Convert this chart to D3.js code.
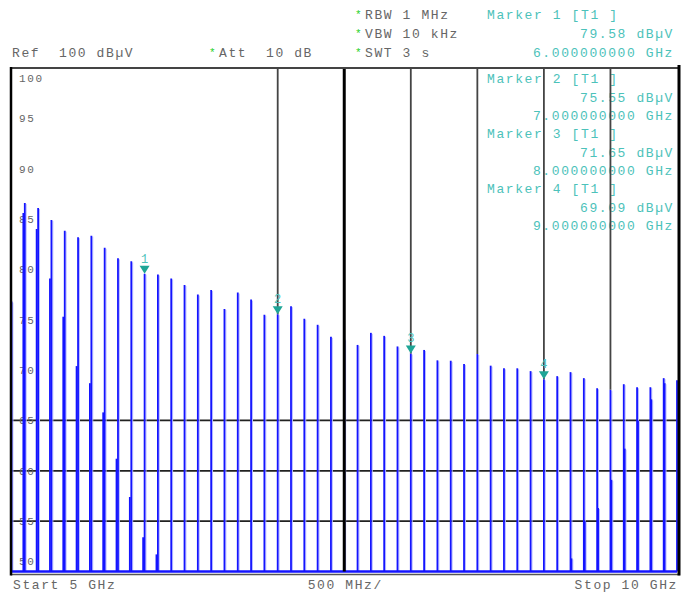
<!DOCTYPE html>
<html>
<head>
<meta charset="utf-8">
<script src="https://cdn.jsdelivr.net/npm/d3@7"></script>
<style>
    body { margin: 0; background: #fff; }
    svg { display: block; }
    text { font-family: "Liberation Mono", "DejaVu Sans Mono", monospace; white-space: pre; }
</style>
</head>
<body>
<svg id="chart" width="691" height="595"></svg>
<script>
// Harmonic comb, one line every 100 MHz (GHz / dBuV)
const harmonicGHz = [5.0, 5.1, 5.2, 5.3, 5.4, 5.5, 5.6, 5.7, 5.8, 5.9,
                     6.0, 6.1, 6.2, 6.3, 6.4, 6.5, 6.6, 6.7, 6.8, 6.9,
                     7.0, 7.1, 7.2, 7.3, 7.4, 7.5, 7.6, 7.7, 7.8, 7.9,
                     8.0, 8.1, 8.2, 8.3, 8.4, 8.5, 8.6, 8.7, 8.8, 8.9,
                     9.0, 9.1, 9.2, 9.3, 9.4, 9.5, 9.6, 9.7, 9.8, 9.9, 10.0]
const harmonicDb = [76.8, 86.6, 86.1, 84.9, 83.85, 83.2, 83.35, 82.15, 81.1, 80.8,
                    79.58, 79.5, 79.1, 78.45, 77.5, 77.95, 76.07, 77.7, 77.0, 75.5,
                    75.55, 76.35, 75.1, 74.5, 73.3, 73.05, 72.5, 73.7, 73.4, 72.35,
                    71.65, 72.0, 70.97, 70.93, 70.6, 71.6, 70.44, 70.18, 70.18, 69.9,
                    69.09, 69.4, 69.8, 69.2, 68.2, 68.05, 68.6, 68.3, 68.3, 69.2, 69.0]

// Second (image) comb, slightly offset from the main one
const imageGHz = [5.089, 5.189, 5.289, 5.389, 5.489, 5.589, 5.689, 5.789, 5.889, 5.989, 6.089,
                  9.207, 9.307, 9.407, 9.507, 9.607, 9.707, 9.807, 9.907]
const imageDb = [85.6, 84.0, 79.1, 75.3, 70.4, 68.7, 65.8, 61.2, 57.4, 53.4, 51.7,
                 51.3, 55.0, 56.3, 59.1, 62.2, 65.0, 67.1, 68.7]

// Markers
const markerGHz = [6, 7, 8, 9]
const markerDb = [79.58, 75.55, 71.65, 69.09]

// Axis / grid values
const yTicks = [100, 95, 90, 85, 80, 75, 70, 65, 60, 55, 50]
const hGridDb = [65, 60, 55]
const vGridGHz = [7, 7.5, 8, 8.5, 9, 9.5]
const centerGHz = 7.5

// Instrument settings text
const settings = ["RBW 1 MHz", "VBW 10 kHz", "SWT 3 s"]
const refText = "Ref  100 dBµV"
const attText = "Att  10 dB"
const startText = "Start 5 GHz"
const spanText = "500 MHz/"
const stopText = "Stop 10 GHz"

const svg = d3.select("#chart")

const x = d3.scaleLinear().domain([5, 10]).range([11.5, 677])
const y = d3.scaleLinear().domain([50, 100]).range([571.5, 68])

const GRAY = "#666"
const TEAL = "#4cc2ba"
const TEAL_DARK = "#1ea596"
const BLUE = "#1414ff"

function label(sel, size, spacing) {
    return sel.style("font-size", size + "px").style("letter-spacing", spacing + "px")
}

// Horizontal grid lines (only the lower ones are shown on the screen)
svg.selectAll("line.hgrid").data(hGridDb).enter().append("line")
    .attr("x1", x(5)).attr("x2", x(10))
    .attr("y1", d => y(d)).attr("y2", d => y(d))
    .attr("stroke", "#222").attr("stroke-width", 1.8)

// Y tick labels
svg.selectAll("text.ytick").data(yTicks).enter().append("text")
    .attr("x", 19)
    .attr("y", d => Math.min(Math.max(y(d), y(100) + 10), y(50) - 10))
    .attr("dy", "0.36em")
    .attr("fill", GRAY)
    .text(d => d)
    .call(label, 11, 1.6)

// Trace: main comb and image comb
const spikes = harmonicGHz.map((f, i) => ({f: f, v: harmonicDb[i]}))
    .concat(imageGHz.map((f, i) => ({f: f, v: imageDb[i]})))

// light shoulder next to each line
svg.selectAll("line.shade").data(spikes).enter().append("line")
    .attr("x1", d => x(d.f) + 1.4).attr("x2", d => x(d.f) + 1.4)
    .attr("y1", y(50)).attr("y2", d => y(d.v) + 1)
    .attr("stroke", "#b8bcff").attr("stroke-width", 1)

svg.selectAll("line.spike").data(spikes).enter().append("line")
    .attr("x1", d => x(d.f)).attr("x2", d => x(d.f))
    .attr("y1", y(50)).attr("y2", d => y(d.v))
    .attr("stroke", BLUE).attr("stroke-width", 1.8)

// Baseline of the trace
svg.append("line")
    .attr("x1", x(5)).attr("x2", x(10))
    .attr("y1", y(50)).attr("y2", y(50))
    .attr("stroke", BLUE).attr("stroke-width", 2.5)

// Marker readouts inside and above the grid
const readout = []
markerGHz.forEach((f, i) => {
    readout.push({t: "Marker " + (i + 1) + " [T1 ]", anchor: "start"})
    readout.push({t: markerDb[i].toFixed(2) + " dBµV", anchor: "end"})
    readout.push({t: f.toFixed(9) + " GHz", anchor: "end"})
})
function rowY(r) {
    return r < 3 ? 19 + r * 18.85 : 83.3 + (r - 3) * 18.35
}
svg.selectAll("text.readout").data(readout).enter().append("text")
    .attr("x", d => d.anchor === "start" ? 487 : 674)
    .attr("y", (d, i) => rowY(i))
    .attr("text-anchor", d => d.anchor)
    .attr("fill", TEAL)
    .text(d => d.t)
    .call(label, 13, 1.6)

// Vertical grid lines, they stop at the trace
vGridGHz.forEach(f => {
    const idx = harmonicGHz.findIndex(h => Math.abs(h - f) < 1e-6)
    const center = f === centerGHz
    svg.append("line")
        .attr("x1", x(f)).attr("x2", x(f))
        .attr("y1", y(100))
        .attr("y2", center ? y(50) : y(harmonicDb[idx]))
        .attr("stroke", center ? "#000" : "#444")
        .attr("stroke-width", center ? 3 : 1.8)
})

// Frame
svg.append("line").attr("x1", 11).attr("x2", 680).attr("y1", 68).attr("y2", 68)
    .attr("stroke", "#444").attr("stroke-width", 1.8)
svg.append("line").attr("x1", 11).attr("x2", 680).attr("y1", 574.5).attr("y2", 574.5)
    .attr("stroke", "#555").attr("stroke-width", 1.5)
svg.append("line").attr("x1", 11).attr("x2", 11).attr("y1", 67).attr("y2", 575.5)
    .attr("stroke", "#000").attr("stroke-width", 2.5)
svg.append("line").attr("x1", 679).attr("x2", 679).attr("y1", 65).attr("y2", 575.5)
    .attr("stroke", "#000").attr("stroke-width", 3)

// Marker triangles and numbers
const markers = svg.selectAll("g.marker")
    .data(markerGHz.map((f, i) => ({f: f, v: markerDb[i], n: i + 1})))
    .enter().append("g")
    .attr("transform", d => "translate(" + x(d.f) + "," + y(d.v) + ")")
markers.append("path")
    .attr("d", "M-5,-8L5,-8L0,0Z")
    .attr("fill", TEAL_DARK)
markers.append("text")
    .attr("y", -11)
    .attr("text-anchor", "middle")
    .attr("fill", TEAL)
    .text(d => d.n)
    .call(label, 12, 0)

// Header: settings with green asterisks
settings.forEach((s, i) => {
    svg.append("text").attr("x", 355).attr("y", rowY(i) - 1)
        .attr("fill", "#1fd11f").style("font-size", "11px").text("*")
    svg.append("text").attr("x", 365).attr("y", rowY(i))
        .attr("fill", GRAY).text(s).call(label, 13, 1.6)
})
svg.append("text").attr("x", 12).attr("y", rowY(2))
    .attr("fill", GRAY).text(refText).call(label, 13, 1.6)
svg.append("text").attr("x", 209).attr("y", rowY(2) - 1)
    .attr("fill", "#1fd11f").style("font-size", "11px").text("*")
svg.append("text").attr("x", 219).attr("y", rowY(2))
    .attr("fill", GRAY).text(attText).call(label, 13, 1.6)

// Bottom: start, span per division, stop
svg.append("text").attr("x", 13).attr("y", 589)
    .attr("fill", GRAY).text(startText).call(label, 13, 1.6)
svg.append("text").attr("x", x(centerGHz) + 1).attr("y", 589).attr("text-anchor", "middle")
    .attr("fill", GRAY).text(spanText).call(label, 13, 1.6)
svg.append("text").attr("x", 678).attr("y", 589).attr("text-anchor", "end")
    .attr("fill", GRAY).text(stopText).call(label, 13, 1.6)
</script>
</body>
</html>
